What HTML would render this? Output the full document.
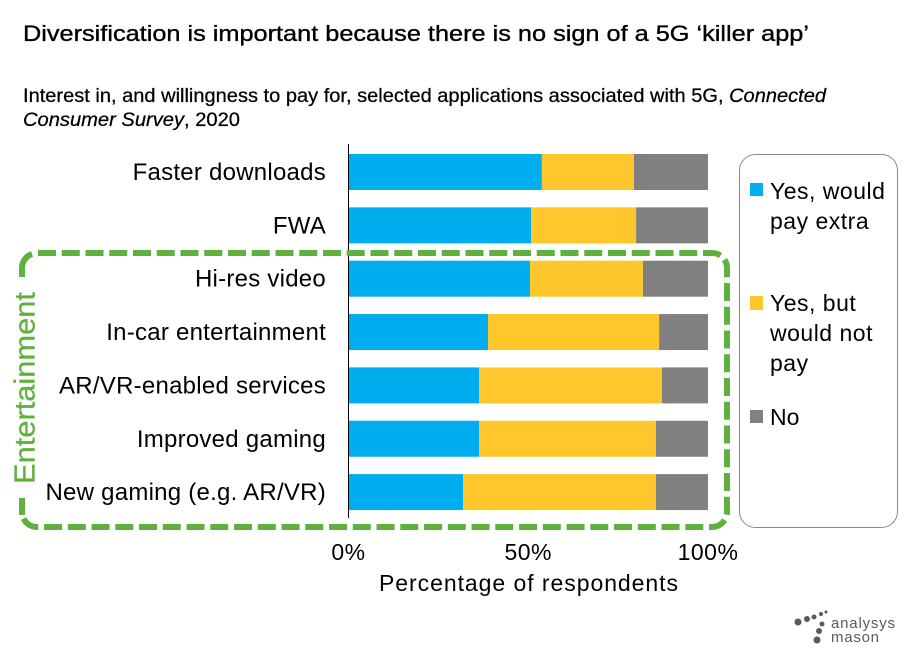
<!DOCTYPE html>
<html lang="en">
<head>
<meta charset="utf-8">
<title>Diversification chart</title>
<style>
html,body{margin:0;padding:0;background:#fff;}
svg{display:block;font-family:"Liberation Sans",sans-serif;}
text{fill:#000;}
</style>
</head>
<body>
<svg id="chart" width="915" height="648" viewBox="0 0 915 648" xmlns="http://www.w3.org/2000/svg">
  <rect width="915" height="648" fill="#fff"/>
  <text x="23" y="41" font-size="22.5" stroke="#000" stroke-width="0.35" textLength="786" lengthAdjust="spacingAndGlyphs">Diversification is important because there is no sign of a 5G ‘killer app’</text>
  <text x="23" y="102" font-size="19.5" stroke="#000" stroke-width="0.25" textLength="803" lengthAdjust="spacingAndGlyphs">Interest in, and willingness to pay for, selected applications associated with 5G, <tspan font-style="italic">Connected</tspan></text>
  <text x="23" y="126" font-size="19.5" stroke="#000" stroke-width="0.25" textLength="217" lengthAdjust="spacingAndGlyphs"><tspan font-style="italic">Consumer Survey</tspan>, 2020</text>

  <g id="bars"></g>
  <g id="cat-labels" font-size="24" text-anchor="end" letter-spacing="0.25"></g>
  <g id="x-ticks" font-size="23" letter-spacing="0.5" text-anchor="middle"></g>
  <line x1="348.5" y1="144" x2="348.5" y2="518" stroke="#000" stroke-width="1"/>
  <text x="379" y="591" font-size="23" textLength="299" lengthAdjust="spacing">Percentage of respondents</text>

  <g fill="none" stroke="#5fb13e" stroke-width="6">
    <path d="M38 253 H712 A15 15 0 0 1 727 268 V512 A15 15 0 0 1 712 527 H37 A15 15 0 0 1 23.5 518.6" stroke-dasharray="18 5.75"/>
    <path d="M22 515 V498"/>
    <path d="M22 277 V268 A15 15 0 0 1 32 253.9"/>
  </g>
  <text transform="translate(34.5 484) rotate(-90)" font-size="29" stroke="#5fb13e" stroke-width="0.3" style="fill:#5fb13e" textLength="192" lengthAdjust="spacingAndGlyphs">Entertainment</text>

  <g>
    <rect x="739.5" y="154.5" width="158" height="373" rx="16" ry="16" fill="#fff" stroke="#8a8a8a" stroke-width="1"/>
    <rect x="750" y="183" width="13" height="13" fill="#00aeef"/>
    <text font-size="23" letter-spacing="0.5">
      <tspan x="770" y="199">Yes, would</tspan><tspan x="770" y="229">pay extra</tspan>
    </text>
    <rect x="750" y="296" width="13" height="14" fill="#ffc72c"/>
    <text font-size="23" letter-spacing="0.5">
      <tspan x="770" y="311">Yes, but</tspan><tspan x="770" y="341">would not</tspan><tspan x="770" y="371">pay</tspan>
    </text>
    <rect x="750" y="410" width="13" height="13" fill="#808080"/>
    <text x="770" y="425" font-size="23">No</text>
  </g>

  <g fill="#5a5a5a">
    <circle cx="798" cy="622" r="3.5"/><circle cx="807" cy="619" r="3"/><circle cx="814" cy="617" r="2.5"/>
    <circle cx="821" cy="614" r="2"/><circle cx="826" cy="612" r="1.5"/><circle cx="822" cy="624" r="2.5"/>
    <circle cx="819" cy="631" r="3"/><circle cx="817" cy="640" r="3.5"/>
    <text x="831" y="628" font-size="15" style="fill:#5a5a5a" textLength="64" lengthAdjust="spacing">analysys</text>
    <text x="831" y="642" font-size="15" style="fill:#5a5a5a" textLength="48" lengthAdjust="spacing">mason</text>
  </g>
</svg>
<script>
const categories = ["Faster downloads","FWA","Hi-res video","In-car entertainment","AR/VR-enabled services","Improved gaming","New gaming (e.g. AR/VR)"];
const yesPayExtra = [53.8,50.8,50.5,38.8,36.3,36.3,31.9];
const yesNotPay = [25.6,29.2,31.4,47.6,50.9,49.2,53.6];
const noInterest = [20.6,20,18.1,13.6,12.8,14.5,14.5];
const xTickValues = [0,50,100];

const NS = 'http://www.w3.org/2000/svg';
function xScale(v){ return 348.5 + v * 3.595; }
function yScale(i){ return 154 + i * 53.35; }
const BAR_H = 36;
const barsG = document.getElementById('bars');
const catG = document.getElementById('cat-labels');
const tickG = document.getElementById('x-ticks');

function addSeg(v0, v1, i, color, name){
  const r = document.createElementNS(NS,'rect');
  r.setAttribute('x', xScale(v0));
  r.setAttribute('y', yScale(i));
  r.setAttribute('width', xScale(v1) - xScale(v0));
  r.setAttribute('height', BAR_H);
  r.setAttribute('fill', color);
  
  
  barsG.appendChild(r);
}
categories.forEach(function(c, i){
  const a = yesPayExtra[i], b = a + yesNotPay[i], d = b + noInterest[i];
  addSeg(0, a, i, '#00aeef', 'bar-yes-pay-extra');
  addSeg(a, b, i, '#ffc72c', 'bar-yes-not-pay');
  addSeg(b, d, i, '#808080', 'bar-no');
  const t = document.createElementNS(NS,'text');
  t.setAttribute('x', 326);
  t.setAttribute('y', yScale(i) + 26);
  
  
  t.textContent = c;
  catG.appendChild(t);
});
xTickValues.forEach(function(v){
  const t = document.createElementNS(NS,'text');
  t.setAttribute('x', xScale(v));
  t.setAttribute('y', 560);
  
  
  t.textContent = v + '%';
  tickG.appendChild(t);
});
</script>
</body>
</html>
